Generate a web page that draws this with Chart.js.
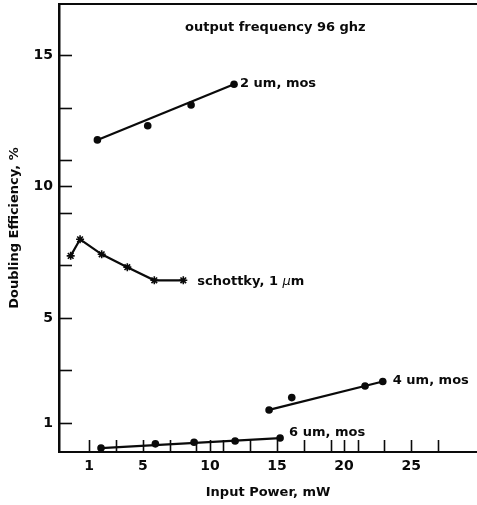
<!DOCTYPE html>
<html><head><meta charset="utf-8">
<script src="https://cdn.jsdelivr.net/npm/chart.js@4.4.0/dist/chart.umd.min.js"></script>
<style>html,body{margin:0;padding:0;background:#fff}</style>
</head><body>
<canvas id="c" width="477" height="505"></canvas>
<script>
// ---- data ----
const xLabelValues = [1, 5, 10, 15, 20, 25];
const xLabelTexts = ['1', '5', '10', '15', '20', '25'];
const xTickMarks = [1, 3, 5, 7, 9, 10, 11, 13, 15, 17, 19, 20, 21, 23, 25, 27];
const yLabelValues = [1, 5, 10, 15];
const yLabelTexts = ['1', '5', '10', '15'];
const yTickMarks = [1, 3, 5, 7, 9, 10, 11, 13, 15];

const mos2X = [1.62, 5.37, 8.60, 11.80];
const mos2Y = [11.77, 12.31, 13.10, 13.89];
const mos2FitX = [1.62, 11.80];
const mos2FitY = [11.77, 13.89];

const schottkyX = [-0.37, 0.33, 1.94, 3.85, 5.86, 8.02];
const schottkyY = [7.36, 7.99, 7.42, 6.93, 6.43, 6.43];

const mos4X = [14.41, 16.10, 21.56, 22.88];
const mos4Y = [1.50, 1.97, 2.41, 2.58];
const mos4FitX = [14.41, 22.88];
const mos4FitY = [1.50, 2.58];

const mos6X = [1.89, 5.94, 8.82, 11.88, 15.23];
const mos6Y = [0.05, 0.21, 0.27, 0.32, 0.43];
const mos6FitX = [1.89, 15.23];
const mos6FitY = [0.05, 0.43];

const seriesLabels = ['2 um, mos', 'schottky, 1 ', '4 um, mos', '6 um, mos'];
const headerText = 'output frequency 96 ghz';
const xTitle = 'Input Power, mW';
const yTitle = 'Doubling Efficiency, %';

const pts = (xs, ys) => xs.map((x, i) => ({x, y: ys[i]}));
const FONT = 'DejaVu Sans';
const INK = '#0a0a0a';

const dotSet = (label, xs, ys) => ({label, data: pts(xs, ys), showLine: false,
  pointStyle: 'circle', pointRadius: 3.8, pointBackgroundColor: INK, pointBorderColor: INK,
  pointBorderWidth: 0, clip: false});
const lineSet = (label, xs, ys) => ({label, data: pts(xs, ys), showLine: true,
  borderColor: INK, borderWidth: 2.2, pointRadius: 0, clip: false});

const labelPlugin = {
  id: 'annot',
  afterDraw(chart) {
    const {ctx, chartArea: a} = chart;
    ctx.save();
    // top frame line
    ctx.strokeStyle = INK; ctx.lineWidth = 2;
    ctx.beginPath(); ctx.moveTo(a.left - 1, a.top); ctx.lineTo(chart.width, a.top); ctx.stroke();
    // inward tick marks
    const xs = chart.scales.x, ys = chart.scales.y;
    ctx.lineWidth = 1.6;
    xTickMarks.forEach(v => {
      const p = Math.round(xs.getPixelForValue(v)) + 0.5;
      ctx.beginPath(); ctx.moveTo(p, a.bottom); ctx.lineTo(p, a.bottom - 12); ctx.stroke();
    });
    yTickMarks.forEach(v => {
      const p = Math.round(ys.getPixelForValue(v)) + 0.5;
      ctx.beginPath(); ctx.moveTo(a.left, p); ctx.lineTo(a.left + 13, p); ctx.stroke();
    });
    // text annotations
    ctx.fillStyle = INK;
    ctx.textBaseline = 'middle';
    ctx.textAlign = 'left';
    ctx.font = 'bold 13px "' + FONT + '"';
    ctx.fillText(headerText, a.left + 126, a.top + 24);
    const last = (i) => { const d = chart.getDatasetMeta(i).data; return d[d.length - 1]; };
    let p = last(0); ctx.fillText(seriesLabels[0], p.x + 6, p.y - 1);
    p = last(2);
    let x0 = p.x + 14, y0 = p.y + 1;
    ctx.fillText(seriesLabels[1], x0, y0);
    x0 += ctx.measureText(seriesLabels[1]).width;
    ctx.font = 'italic 13px "' + FONT + '"';
    ctx.fillText('\u03bc', x0, y0);
    x0 += ctx.measureText('\u03bc').width;
    ctx.font = 'bold 13px "' + FONT + '"';
    ctx.fillText('m', x0, y0);
    p = last(3); ctx.fillText(seriesLabels[2], p.x + 10, p.y - 1);
    p = last(5); ctx.fillText(seriesLabels[3], p.x + 9, p.y - 5);
    ctx.restore();
  }
};

new Chart(document.getElementById('c'), {
  type: 'scatter',
  data: {
    datasets: [
      dotSet('2 um, mos', mos2X, mos2Y),
      lineSet('2 um, mos fit', mos2FitX, mos2FitY),
      {label: 'schottky, 1 \u03bcm', data: pts(schottkyX, schottkyY), showLine: true,
        borderColor: INK, borderWidth: 2.2, pointStyle: 'star', pointRadius: 4,
        pointBorderColor: INK, pointBorderWidth: 1.6, clip: false},
      dotSet('4 um, mos', mos4X, mos4Y),
      lineSet('4 um, mos fit', mos4FitX, mos4FitY),
      dotSet('6 um, mos', mos6X, mos6Y),
      lineSet('6 um, mos fit', mos6FitX, mos6FitY)
    ]
  },
  options: {
    responsive: false,
    devicePixelRatio: 1,
    animation: false,
    layout: {autoPadding: false, padding: {top: 4, left: 0, right: 0, bottom: 0}},
    plugins: {legend: {display: false}, tooltip: {enabled: false}},
    scales: {
      x: {
        type: 'linear', min: -1.24, max: 29.9,
        afterFit(s) { s.height = 53; s.paddingLeft = 0; s.paddingRight = 0; },
        afterBuildTicks(s) { s.ticks = xLabelValues.map(v => ({value: v})); },
        ticks: {
          autoSkip: false, maxRotation: 0, padding: 6, color: INK,
          font: {family: FONT, weight: 'bold', size: 14},
          callback: (v) => { const i = xLabelValues.indexOf(v); return i >= 0 ? xLabelTexts[i] : ''; }
        },
        grid: {display: false, drawTicks: false},
        border: {display: true, color: INK, width: 2},
        title: {display: true, text: xTitle, color: INK,
          font: {family: FONT, weight: 'bold', size: 13}, padding: {top: 0, bottom: 5}}
      },
      y: {
        type: 'linear', min: -0.1, max: 16.94,
        afterFit(s) { s.width = 59; s.paddingTop = 0; s.paddingBottom = 0; },
        afterBuildTicks(s) { s.ticks = yLabelValues.map(v => ({value: v})); },
        ticks: {
          autoSkip: false, padding: 6, color: INK,
          font: {family: FONT, weight: 'bold', size: 14},
          callback: (v) => { const i = yLabelValues.indexOf(v); return i >= 0 ? yLabelTexts[i] : ''; }
        },
        grid: {display: false, drawTicks: false},
        border: {display: true, color: INK, width: 2.5},
        title: {display: true, text: yTitle, color: INK,
          font: {family: FONT, weight: 'bold', size: 13}, padding: {top: 7, bottom: 0}}
      }
    }
  },
  plugins: [labelPlugin]
});
</script>
</body></html>
